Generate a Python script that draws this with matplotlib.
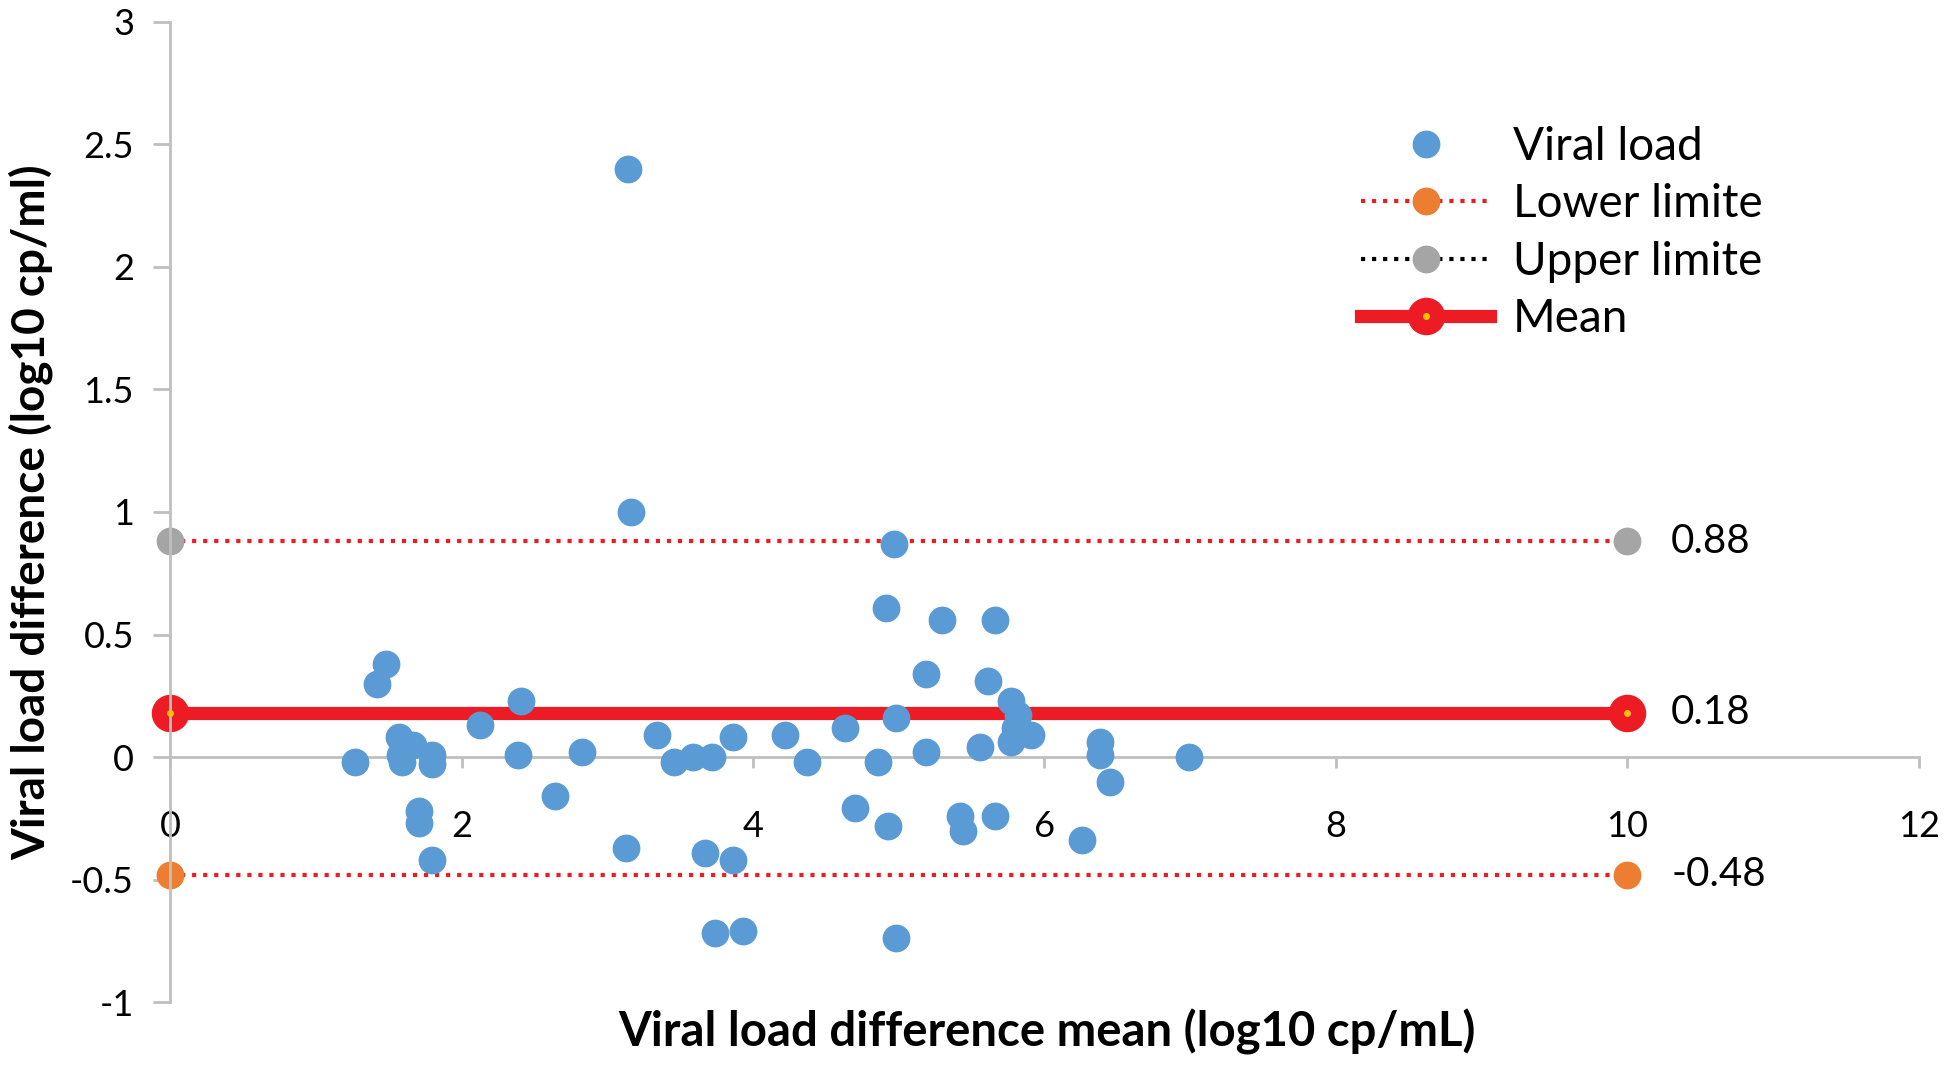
import matplotlib
matplotlib.use("Agg")
import matplotlib.pyplot as plt
from matplotlib.lines import Line2D

plt.rcParams['font.family'] = ['Lato', 'DejaVu Sans']

# scatter data
mean_x = [3.14, 3.16, 4.97, 4.91, 5.30, 5.66, 5.19, 5.61, 1.48, 1.42,
          2.41, 5.77, 2.13, 4.98, 4.63, 3.34, 4.22, 3.86, 5.82, 5.80,
          5.91, 5.77, 1.57, 1.67, 1.58, 1.59, 1.27, 1.80, 1.80, 2.39,
          2.83, 3.46, 3.59, 3.72, 4.37, 4.86, 5.19, 5.56, 6.38, 6.38,
          6.99, 6.45, 2.64, 1.71, 1.71, 4.70, 4.93, 5.42, 5.44, 5.66,
          6.26, 3.13, 1.80, 3.67, 3.86, 3.74, 3.93, 4.98]
diff_y = [2.40, 1.00, 0.87, 0.61, 0.56, 0.56, 0.34, 0.31, 0.38, 0.30,
          0.23, 0.23, 0.13, 0.16, 0.12, 0.09, 0.09, 0.08, 0.17, 0.12,
          0.09, 0.06, 0.08, 0.05, 0.01, -0.02, -0.02, 0.01, -0.03, 0.01,
          0.02, -0.02, 0.00, 0.00, -0.02, -0.02, 0.02, 0.04, 0.06, 0.01,
          0.00, -0.10, -0.16, -0.22, -0.27, -0.21, -0.28, -0.24, -0.30, -0.24,
          -0.34, -0.37, -0.42, -0.39, -0.42, -0.72, -0.71, -0.74]

# limits of agreement
line_x = [0, 10]
mean_val = 0.18
upper_val = 0.88
lower_val = -0.48

blue = '#5B9BD5'
red = '#ED1C24'
orange = '#ED7D31'
grey = '#A5A5A5'
axis_grey = '#BFBFBF'

fig = plt.figure(figsize=(19.5, 10.67), dpi=100)
ax = fig.add_axes([0.0872, 0.0609, 0.8968, 0.9185])

ax.plot(mean_x, diff_y, 'o', color=blue, ms=19, zorder=3)

ax.plot(line_x, [upper_val] * 2, ':', color=red, lw=3, marker='o', ms=19,
        markerfacecolor=grey, markeredgecolor=grey, clip_on=False, zorder=2)
ax.plot(line_x, [lower_val] * 2, ':', color=red, lw=3, marker='o', ms=19,
        markerfacecolor=orange, markeredgecolor=orange, clip_on=False, zorder=2)
ax.plot(line_x, [mean_val] * 2, '-', color=red, lw=9.5, marker='o', ms=26,
        solid_capstyle='butt', clip_on=False, zorder=2)
ax.plot(line_x, [mean_val] * 2, 'o', color='#FFC000', ms=4, clip_on=False, zorder=4)

# value labels to the right of the lines
for v in [upper_val, mean_val, lower_val]:
    ax.text(10.3, v, str(v), fontsize=29, va='center', ha='left')

ax.set_xlim(0, 12)
ax.set_ylim(-1, 3)
ax.set_xticks([0, 2, 4, 6, 8, 10, 12])
ax.set_yticks([-1, -0.5, 0, 0.5, 1, 1.5, 2, 2.5, 3])
ax.set_yticklabels(['-1', '-0.5', '0', '0.5', '1', '1.5', '2', '2.5', '3'])

ax.spines['top'].set_visible(False)
ax.spines['right'].set_visible(False)
ax.spines['bottom'].set_position(('data', 0))
ax.spines['bottom'].set_color(axis_grey)
ax.spines['left'].set_color(axis_grey)
ax.spines['bottom'].set_linewidth(2)
ax.spines['left'].set_linewidth(2)
ax.tick_params(axis='x', direction='out', length=8, width=2, color=axis_grey,
               pad=30, labelsize=26)
ax.tick_params(axis='y', direction='out', length=12, width=2, color=axis_grey,
               pad=14, labelsize=26)

fig.text(0.537, 0.033, 'Viral load difference mean (log10 cp/mL)',
         fontsize=34, fontweight='bold', ha='center', va='center')
fig.text(0.016, 0.52, 'Viral load difference (log10 cp/ml)',
         fontsize=33, fontweight='bold', ha='center', va='center', rotation=90)

handles = [
    Line2D([], [], ls='none', marker='o', ms=19, color=blue),
    Line2D([], [], ls=':', lw=3, color=red, marker='o', ms=19,
           markerfacecolor=orange, markeredgecolor=orange),
    Line2D([], [], ls=':', lw=3, color='black', marker='o', ms=19,
           markerfacecolor=grey, markeredgecolor=grey),
    (Line2D([], [], ls='-', lw=9.5, color=red, marker='o', ms=26),
     Line2D([], [], ls='none', marker='o', ms=4, color='#FFC000')),
]
labels = ['Viral load', 'Lower limite', 'Upper limite', 'Mean']
fig.legend(handles, labels, loc='upper left', bbox_to_anchor=(0.677, 0.921),
           frameon=False, fontsize=33, handlelength=2.8, handletextpad=0.5,
           labelspacing=0.34)

fig.savefig('out.png', dpi=100)
